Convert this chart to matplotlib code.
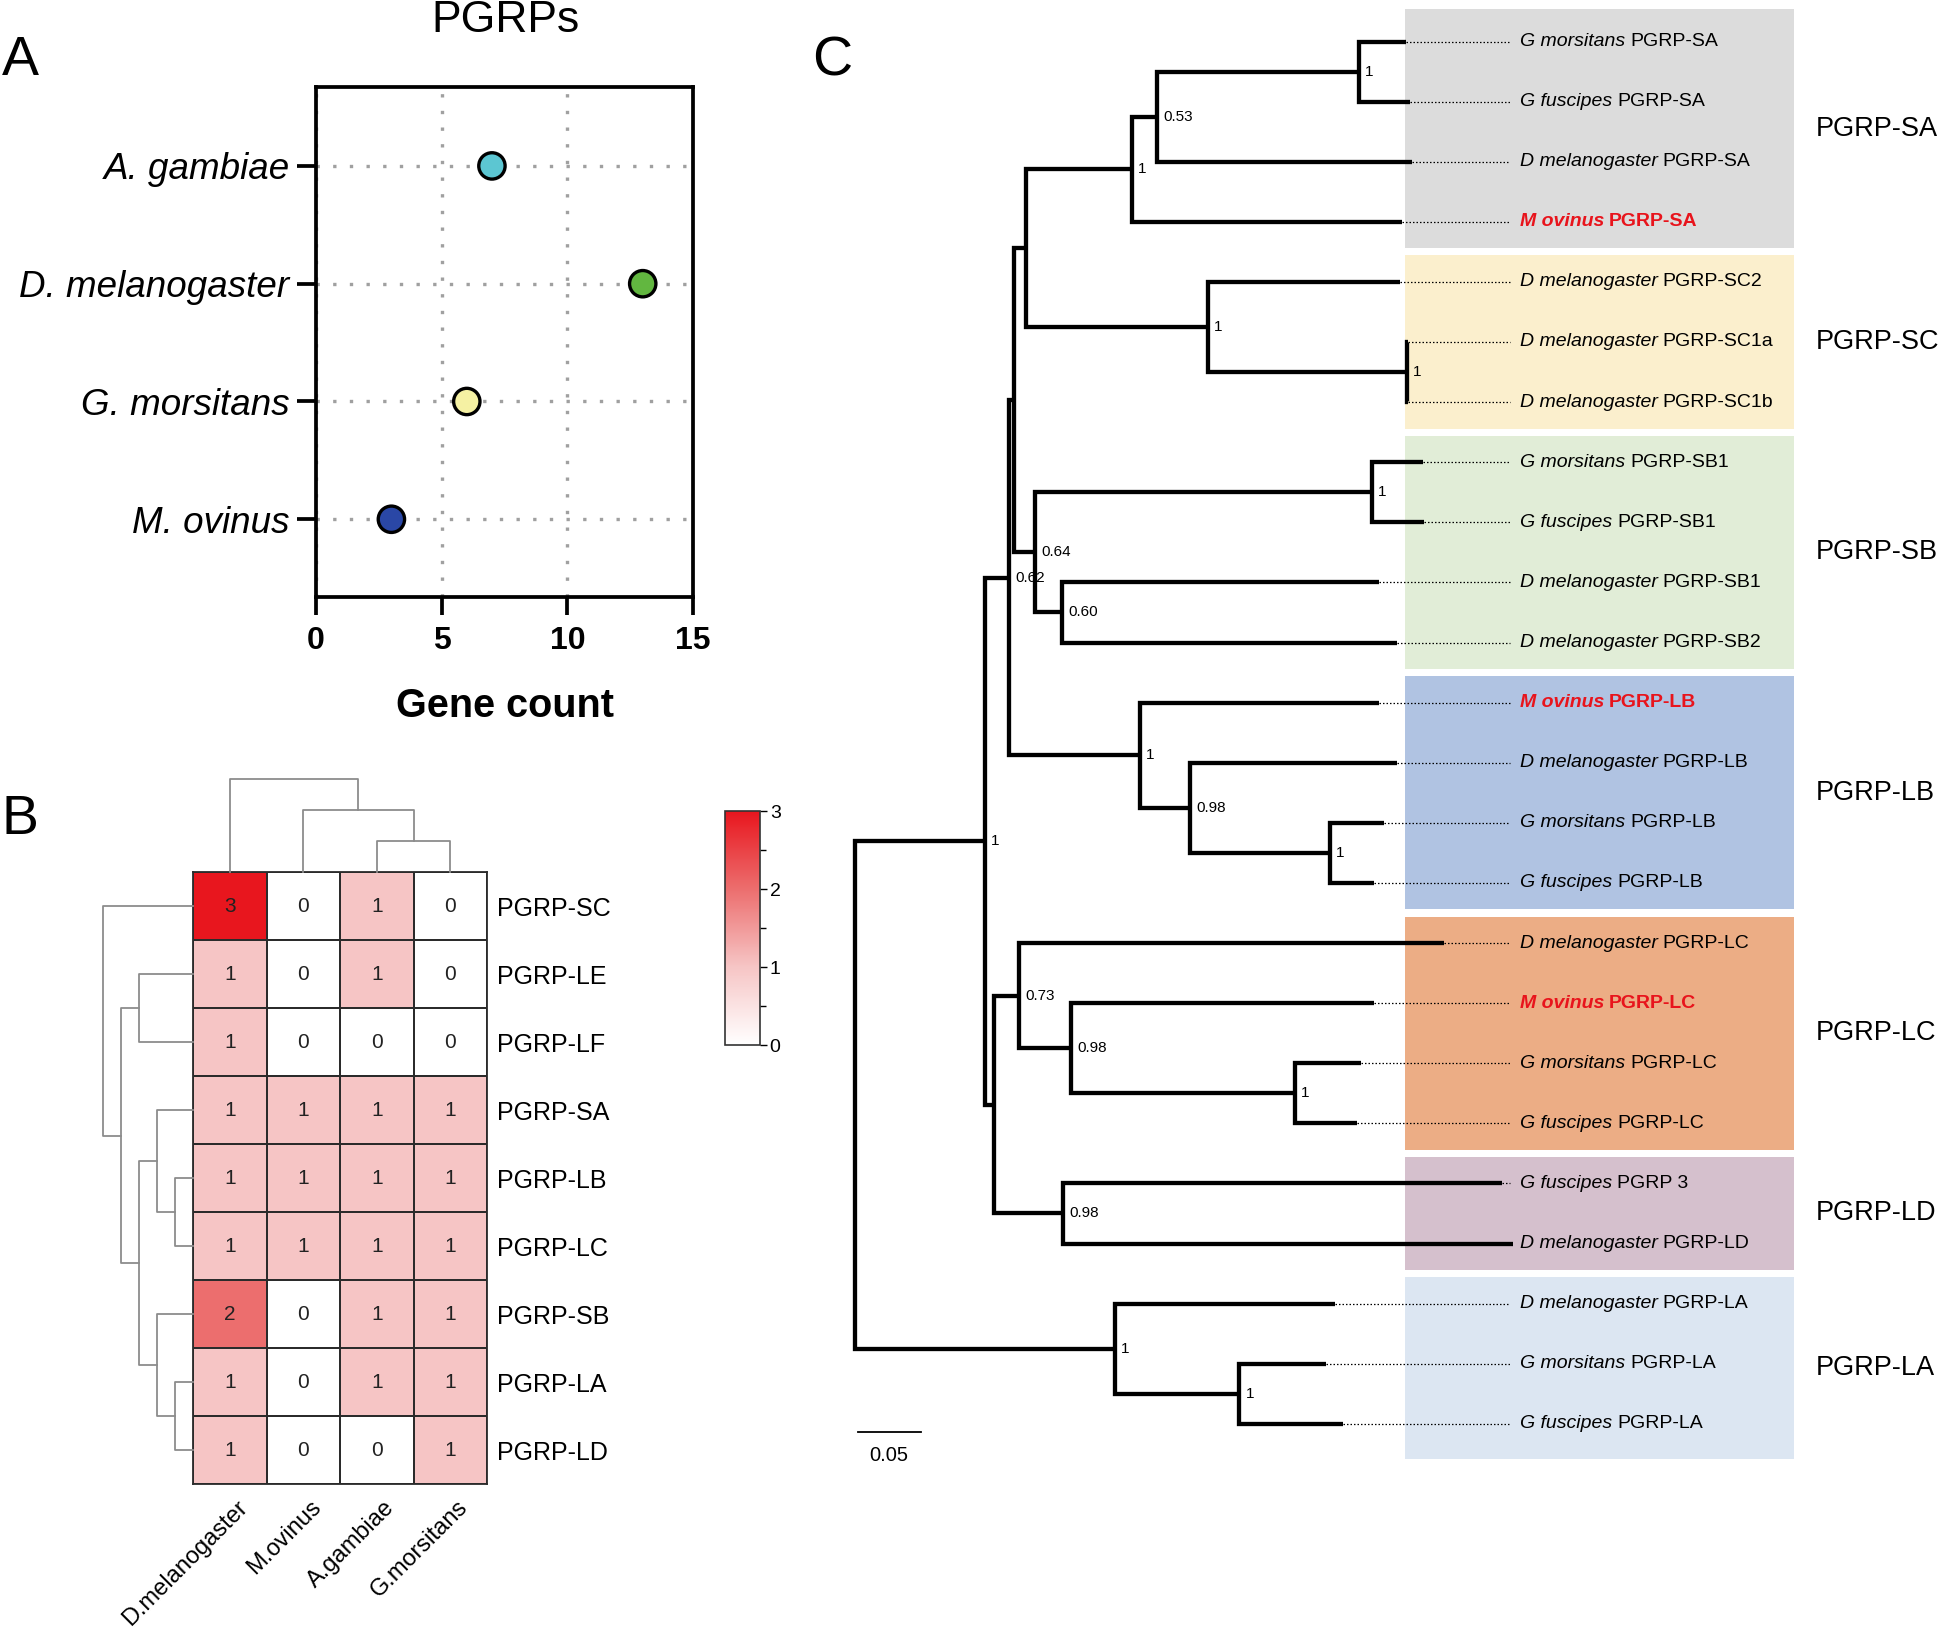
import numpy as np
import matplotlib
matplotlib.use('Agg')
import matplotlib.pyplot as plt
from matplotlib.colors import LinearSegmentedColormap
from matplotlib.patches import Rectangle
from matplotlib.ticker import MultipleLocator

W, H = 1944, 1628
SANS = ['Liberation Sans', 'DejaVu Sans']
plt.rcParams['font.family'] = SANS

# ---- panel A: PGRP gene count per species
species = ['A. gambiae', 'D. melanogaster', 'G. morsitans', 'M. ovinus']
gene_count = [7, 13, 6, 3]
dot_colors = ['#5cc6d2', '#62b740', '#f5f1a3', '#2a47a6']
count_ticks = [0, 5, 10, 15]

# ---- panel B: copies of each PGRP type per species
hm_rows = ['PGRP-SC', 'PGRP-LE', 'PGRP-LF', 'PGRP-SA', 'PGRP-LB',
           'PGRP-LC', 'PGRP-SB', 'PGRP-LA', 'PGRP-LD']
hm_cols = ['D.melanogaster', 'M.ovinus', 'A.gambiae', 'G.morsitans']
hm_vals = [[3, 0, 1, 0],
           [1, 0, 1, 0],
           [1, 0, 0, 0],
           [1, 1, 1, 1],
           [1, 1, 1, 1],
           [1, 1, 1, 1],
           [2, 0, 1, 1],
           [1, 0, 1, 1],
           [1, 0, 0, 1]]
# clustering, merges written as [left, right, height]
row_tree = ['PGRP-SC', [['PGRP-LE', 'PGRP-LF', 3],
                        [['PGRP-SA', ['PGRP-LB', 'PGRP-LC', 1], 2],
                         ['PGRP-SB', ['PGRP-LA', 'PGRP-LD', 1], 2], 3], 4], 5]
col_tree = ['D.melanogaster', ['M.ovinus', ['A.gambiae', 'G.morsitans', 1], 2], 3]
hm_colors = ['#ffffff', '#f6c5c5', '#ec6e6e', '#e8161e']

# ---- panel C: phylogeny (newick, support values as node names)
tree_nwk = ("((((((((GmSA:0.0372,GfSA:0.0404)1:0.1596,DmSA:0.2015)0.53:0.0197,MoSA:0.2133)1:0.0837,"
            "(DmSC2:0.1517,(DmSC1a:0.0008,DmSC1b:0.0008)1:0.1572)1:0.1437):0.0095,"
            "((GmSB1:0.0402,GfSB1:0.0410)1:0.2662,(DmSB1:0.2504,DmSB2:0.2646)0.60:0.0213)0.64:0.0166):0.0040,"
            "(MoLB:0.1887,(DmLB:0.1634,(GmLB:0.0427,GfLB:0.0348)1:0.1105)0.98:0.0395)1:0.1036)0.62:0.0189,"
            "((DmLC:0.3357,(MoLC:0.2394,(GmLC:0.0521,GfLC:0.0494)1:0.1769)0.98:0.0410)0.73:0.0198,"
            "(GfPGRP3:0.3468,DmLD:0.3554)0.98:0.0545):0.0071)1:0.1031,"
            "(DmLA:0.1737,(GmLA:0.0687,GfLA:0.0818)1:0.0983)1:0.2058);")
leaf_labels = {
    'GmSA': ('G morsitans', 'PGRP-SA'), 'GfSA': ('G fuscipes', 'PGRP-SA'),
    'DmSA': ('D melanogaster', 'PGRP-SA'), 'MoSA': ('M ovinus', 'PGRP-SA'),
    'DmSC2': ('D melanogaster', 'PGRP-SC2'), 'DmSC1a': ('D melanogaster', 'PGRP-SC1a'),
    'DmSC1b': ('D melanogaster', 'PGRP-SC1b'),
    'GmSB1': ('G morsitans', 'PGRP-SB1'), 'GfSB1': ('G fuscipes', 'PGRP-SB1'),
    'DmSB1': ('D melanogaster', 'PGRP-SB1'), 'DmSB2': ('D melanogaster', 'PGRP-SB2'),
    'MoLB': ('M ovinus', 'PGRP-LB'), 'DmLB': ('D melanogaster', 'PGRP-LB'),
    'GmLB': ('G morsitans', 'PGRP-LB'), 'GfLB': ('G fuscipes', 'PGRP-LB'),
    'DmLC': ('D melanogaster', 'PGRP-LC'), 'MoLC': ('M ovinus', 'PGRP-LC'),
    'GmLC': ('G morsitans', 'PGRP-LC'), 'GfLC': ('G fuscipes', 'PGRP-LC'),
    'GfPGRP3': ('G fuscipes', 'PGRP 3'), 'DmLD': ('D melanogaster', 'PGRP-LD'),
    'DmLA': ('D melanogaster', 'PGRP-LA'), 'GmLA': ('G morsitans', 'PGRP-LA'),
    'GfLA': ('G fuscipes', 'PGRP-LA'),
}
highlight = 'M ovinus'
groups = ['PGRP-SA', 'PGRP-SC', 'PGRP-SB', 'PGRP-LB', 'PGRP-LC', 'PGRP-LD', 'PGRP-LA']
group_sizes = [4, 3, 4, 4, 4, 2, 3]
group_colors = ['#dcdcdc', '#fbefcd', '#e1edd7', '#b0c3e2', '#ecad85', '#d5c0cd', '#dce6f2']
scale_len = 0.05

fig = plt.figure(figsize=(W / 100, H / 100), dpi=100)


# place axes / text in pixel coordinates of the final image
def px_axes(l, t, r, b):
    return fig.add_axes([l / W, 1 - b / H, (r - l) / W, (b - t) / H])


def px_text(x, y, s, **kw):
    return fig.text(x / W, 1 - y / H, s, **kw)


# ================= A =================
axA = px_axes(316, 87, 693, 597)
ypos = np.arange(len(species), 0, -1)
axA.scatter(gene_count, ypos, s=360, c=dot_colors, edgecolors='black',
            linewidths=2.4, zorder=3, clip_on=False)
axA.set_xlim(0, 15)
axA.set_ylim(0.34, 4.67)
axA.set_xticks(count_ticks)
axA.set_xticklabels([str(v) for v in count_ticks], fontweight='bold', fontsize=23)
axA.set_yticks(ypos)
axA.set_yticklabels(species, fontstyle='italic', fontsize=26.5)
axA.tick_params(axis='x', length=13, width=2.7, pad=8)
axA.tick_params(axis='y', length=14, width=2.7, pad=5)
for sp in axA.spines.values():
    sp.set_linewidth(2.7)
axA.grid(True, ls=(0, (1, 4)), lw=2.4, color='#a0a0a0')
axA.set_axisbelow(True)
px_text(505, 32, 'PGRPs', fontsize=32, ha='center', va='baseline')
px_text(505, 717, 'Gene count', fontsize=28.5, fontweight='bold', ha='center', va='baseline')
px_text(2, 75, 'A', fontsize=40, va='baseline')

# ================= B =================
nr, nc = len(hm_rows), len(hm_cols)
cmap = LinearSegmentedColormap.from_list('hm', hm_colors)
axB = px_axes(193, 872, 487, 1484)
mesh = axB.pcolormesh(np.array(hm_vals), cmap=cmap, vmin=0, vmax=3,
                      edgecolors='#2b2b2b', linewidth=1.3)
axB.set_xlim(0, nc)
axB.set_ylim(nr, 0)
for i, row in enumerate(hm_vals):
    for j, v in enumerate(row):
        axB.text(j + 0.5, i + 0.5, str(v), ha='center', va='center', fontsize=15, color='#222222')
axB.yaxis.tick_right()
axB.set_yticks(np.arange(nr) + 0.5)
axB.set_yticklabels(hm_rows, fontsize=18)
axB.set_xticks([])
axB.tick_params(axis='y', length=0, pad=7)
for sp in axB.spines.values():
    sp.set_linewidth(1.3)
    sp.set_color('#2b2b2b')
for j, name in enumerate(hm_cols):
    axB.annotate(name, xy=(j + 0.5, nr), xytext=(5, -9), textcoords='offset points',
                 rotation=45, ha='right', va='top', rotation_mode='anchor', fontsize=17)


def draw_dendro(ax, node, pos, vertical):
    if isinstance(node, str):
        return pos[node], 0
    a, b, h = node
    pa, ha = draw_dendro(ax, a, pos, vertical)
    pb, hb = draw_dendro(ax, b, pos, vertical)
    p = [pa, pa, pb, pb]
    q = [ha, h, h, hb]
    if vertical:
        ax.plot(p, q, color='#8c8c8c', lw=1.3, clip_on=False)
    else:
        ax.plot(q, p, color='#8c8c8c', lw=1.3, clip_on=False)
    return (pa + pb) / 2, h


axR = px_axes(103, 872, 193, 1484)
draw_dendro(axR, row_tree, {r: i + 0.5 for i, r in enumerate(hm_rows)}, False)
axR.set_xlim(row_tree[2], 0)
axR.set_ylim(nr, 0)
axR.axis('off')

axT = px_axes(193, 779, 487, 872)
draw_dendro(axT, col_tree, {c: j + 0.5 for j, c in enumerate(hm_cols)}, True)
axT.set_xlim(0, nc)
axT.set_ylim(0, col_tree[2])
axT.axis('off')

cax = px_axes(725, 811, 760, 1045)
cb = fig.colorbar(mesh, cax=cax, ticks=[0, 1, 2, 3])
cb.outline.set_linewidth(1.2)
cb.outline.set_edgecolor('#333333')
cax.yaxis.set_minor_locator(MultipleLocator(0.5))
cax.tick_params(which='major', length=5, width=1, labelsize=14, pad=2)
cax.tick_params(which='minor', length=4, width=1)
px_text(2, 834, 'B', fontsize=40, va='baseline')


# ================= C =================
def parse_newick(s):
    pos = 0

    def node():
        nonlocal pos
        children = []
        if s[pos] == '(':
            pos += 1
            children.append(node())
            while s[pos] == ',':
                pos += 1
                children.append(node())
            pos += 1
        start = pos
        while s[pos] not in ':,);':
            pos += 1
        name = s[start:pos]
        length = 0.0
        if s[pos] == ':':
            pos += 1
            start = pos
            while s[pos] not in ',);':
                pos += 1
            length = float(s[start:pos])
        return {'name': name, 'len': length, 'children': children}

    return node()


tree = parse_newick(tree_nwk)
leaves = []


def layout(n, x):
    n['x'] = x + n['len']
    if not n['children']:
        n['y'] = len(leaves)
        leaves.append(n)
    else:
        for c in n['children']:
            layout(c, n['x'])
        n['y'] = (n['children'][0]['y'] + n['children'][-1]['y']) / 2


layout(tree, 0.0)

X0, XU = 854.5, 1266.0   # root pixel, pixels per substitution unit
Y0, YU = 41.5, 60.1      # first leaf pixel, pixels per leaf


def ux(px):
    return (px - X0) / XU


def uy(px):
    return (px - Y0) / YU


axC = px_axes(800, 0, W, H)
axC.set_xlim(ux(800), ux(W))
axC.set_ylim(uy(H), uy(0))
axC.axis('off')


def draw_tree(n):
    if not n['children']:
        return
    a, b = n['children']
    axC.plot([a['x'], n['x'], n['x'], b['x']], [a['y'], a['y'], b['y'], b['y']],
             color='black', lw=3.1, solid_joinstyle='miter', solid_capstyle='butt', zorder=3)
    if n['name']:
        axC.annotate(n['name'], xy=(n['x'], n['y']), xytext=(4.5, 0), textcoords='offset points',
                     va='center', fontsize=11, zorder=4)
    draw_tree(a)
    draw_tree(b)


draw_tree(tree)

# clade boxes and names
start = 0
for k, (g, n, col) in enumerate(zip(groups, group_sizes, group_colors)):
    top, bot = start - 0.44, start + n - 1 + 0.44
    if k == 0:
        top -= 0.1
    if k == len(groups) - 1:
        bot += 0.15
    axC.add_patch(Rectangle((ux(1405), top), ux(1794) - ux(1405), bot - top,
                            facecolor=col, edgecolor='none', zorder=0))
    axC.text(ux(1816), (top + bot) / 2, g, fontsize=19.5, va='center')
    start += n

# leaf names
for leaf in leaves:
    sp_name, gene = leaf_labels[leaf['name']]
    if leaf['x'] < ux(1510):
        axC.plot([leaf['x'], ux(1510)], [leaf['y'], leaf['y']], color='black',
                 lw=0.9, ls=(0, (1.2, 1.6)), zorder=2)
    red = sp_name == highlight
    style = dict(fontsize=14, color='#e8141c' if red else 'black',
                 fontweight='bold' if red else 'normal')
    t = axC.text(ux(1520), leaf['y'], sp_name, fontstyle='italic', va='center', **style)
    axC.annotate(gene, xy=(1, 0.5), xycoords=t, xytext=(3.5, 0), textcoords='offset points',
                 va='center', **style)

# scale bar
axC.plot([ux(857.5), ux(857.5) + scale_len], [uy(1432), uy(1432)], color='black', lw=1.3)
axC.text(ux(857.5) + scale_len / 2, uy(1446), str(scale_len), ha='center', va='top', fontsize=14.5)
px_text(812, 76, 'C', fontsize=40, va='baseline')

fig.savefig('out.png', dpi=100)
